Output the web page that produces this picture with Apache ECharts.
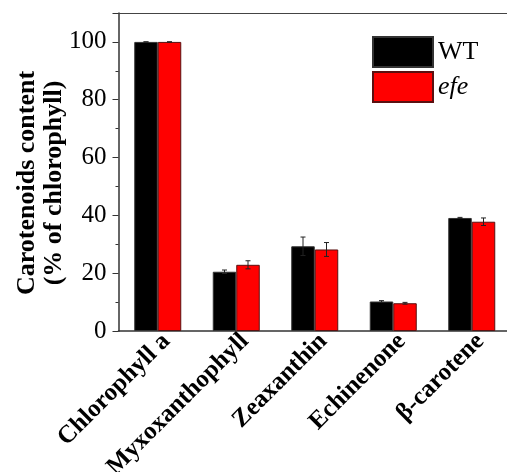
<!DOCTYPE html>
<html>
<head>
<meta charset="utf-8">
<script src="https://cdn.jsdelivr.net/npm/echarts@6/dist/echarts.min.js"></script>
<style>
  html, body { margin: 0; padding: 0; background: #fff; }
  #chart { width: 507px; height: 472px; }
</style>
</head>
<body>
<div id="chart"></div>
<script>
// Pigment classes on the x axis
const categories = ['Chlorophyll a', 'Myxoxanthophyll', 'Zeaxanthin', 'Echinenone', 'β-carotene'];
// Content relative to chlorophyll (%), mean and standard deviation
const wtValues = [100, 20.5, 29.3, 10.2, 39.1];
const wtErrors = [0, 0.6, 3.2, 0.3, 0.2];
const efeValues = [100, 22.9, 28.2, 9.6, 37.8];
const efeErrors = [0, 1.4, 2.4, 0.3, 1.3];
// Y axis ticks
const yMin = 0, yMax = 110, yStep = 20;

const serif = '"Liberation Serif", "Times New Roman", serif';
const BAR_W = 23.5;

function errorSeries(values, errors, offset, name) {
  return {
    type: 'custom',
    name: name + ' SD',
    z: 5,
    silent: true,
    data: values.map((v, i) => [i, v - errors[i], v + errors[i]]),
    renderItem: function (params, api) {
      const i = api.value(0);
      const lo = api.coord([i, api.value(1)]);
      const hi = api.coord([i, api.value(2)]);
      const x = lo[0] + offset;
      const cap = 2.5;
      const style = { stroke: '#222', lineWidth: 1 };
      return {
        type: 'group',
        children: [
          { type: 'line', shape: { x1: x, y1: lo[1], x2: x, y2: hi[1] }, style: style },
          { type: 'line', shape: { x1: x - cap, y1: hi[1], x2: x + cap, y2: hi[1] }, style: style },
          { type: 'line', shape: { x1: x - cap, y1: lo[1], x2: x + cap, y2: lo[1] }, style: style }
        ]
      };
    }
  };
}

const chart = echarts.init(document.getElementById('chart'), null, { renderer: 'canvas' });
chart.setOption({
  animation: false,
  backgroundColor: '#fff',
  textStyle: { fontFamily: serif },
  grid: { left: 118.5, right: -4, top: 13, bottom: 141, containLabel: false, outerBoundsMode: 'none' },
  legend: {
    data: ['WT', 'efe'],
    orient: 'vertical',
    left: 372,
    top: 36,
    padding: 0,
    itemWidth: 60,
    itemHeight: 30,
    itemGap: 3,
    icon: 'rect',
    formatter: function (name) { return name === 'efe' ? '{i|efe}' : name; },
    textStyle: {
      fontFamily: serif, fontSize: 26, color: '#000',
      rich: { i: { fontFamily: serif, fontSize: 26, fontStyle: 'italic', color: '#000' } }
    }
  },
  xAxis: [{
    type: 'category',
    data: categories,
    axisLine: { lineStyle: { color: '#333', width: 1.5 } },
    axisTick: { show: false },
    axisLabel: {
      interval: 0,
      rotate: 45,
      margin: -2,
      verticalAlign: 'top',
      lineHeight: 24,
      fontFamily: serif,
      fontWeight: 'bold',
      fontSize: 25,
      color: '#000'
    }
  }, {
    type: 'category',
    data: categories,
    position: 'top',
    axisLine: { lineStyle: { color: '#444', width: 1 } },
    axisTick: { show: false },
    axisLabel: { show: false }
  }],
  yAxis: {
    type: 'value',
    min: yMin,
    max: yMax,
    interval: yStep,
    name: 'Carotenoids content\n(% of chlorophyll)',
    nameLocation: 'middle',
    nameGap: 51,
    nameMoveOverlap: false,
    nameTextStyle: {
      fontFamily: serif, fontWeight: 'bold', fontSize: 26, lineHeight: 27,
      color: '#000', padding: [0, 22, 0, 0]
    },
    axisLine: { show: true, lineStyle: { color: '#333', width: 1.5 } },
    axisTick: { show: true, inside: false, length: 6, lineStyle: { color: '#333' } },
    minorTick: { show: true, splitNumber: 2, length: 3, lineStyle: { color: '#333' } },
    splitLine: { show: false },
    axisLabel: {
      margin: 12,
      fontFamily: serif,
      fontSize: 25,
      color: '#000',
      formatter: function (v) { return v <= 100 ? String(v) : ''; }
    }
  },
  series: [
    {
      name: 'WT', type: 'bar', data: wtValues, barWidth: BAR_W, barGap: '0%',
      itemStyle: { color: '#000', borderColor: '#333', borderWidth: 1 }
    },
    {
      name: 'efe', type: 'bar', data: efeValues, barWidth: BAR_W, barGap: '0%',
      itemStyle: { color: '#ff0000', borderColor: '#5a1010', borderWidth: 1 }
    },
    errorSeries(wtValues, wtErrors, -BAR_W / 2, 'WT'),
    errorSeries(efeValues, efeErrors, BAR_W / 2, 'efe')
  ]
});
</script>
</body>
</html>
